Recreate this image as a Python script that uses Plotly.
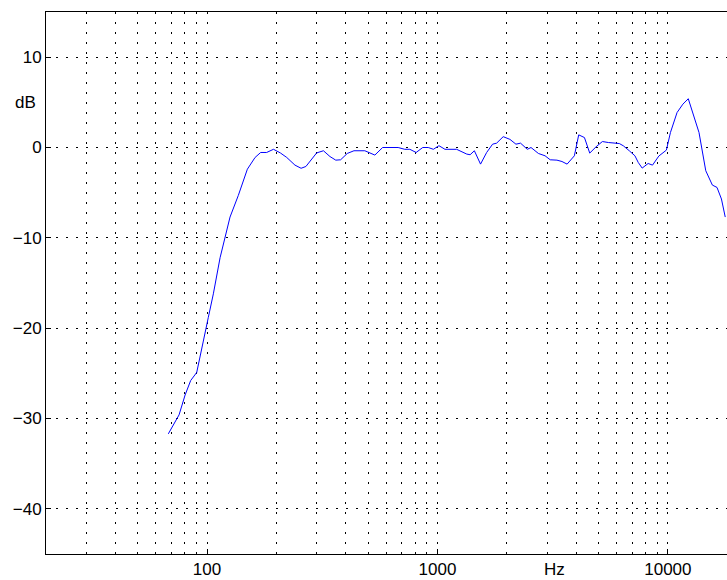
import math
import plotly.graph_objects as go

freq_hz = [67.9, 75.6, 80.3, 84.9, 90.2, 94.8, 101.3, 106.5, 113.9, 125.8, 136.7, 149.6,
           161.6, 170.9, 181.4, 194.2, 208, 221.7, 240.7, 255.9, 268.6, 299, 320, 341.5,
           362, 380, 406, 434, 484, 535, 578, 675, 721, 759, 808, 863, 912, 960, 1015,
           1078, 1211, 1340, 1386, 1446, 1538, 1635, 1735, 1806, 1929, 2063, 2190, 2294,
           2454, 2547, 2742, 2931, 3085, 3300, 3470, 3652, 3928, 4102, 4344, 4580, 4880,
           5198, 5520, 6155, 6405, 6800, 7195, 7435, 7735, 8208, 8578, 9134, 9853, 10260,
           10960, 11620, 12260, 13650, 14600, 15600, 16340, 17080, 17740]
level_db = [-31.7, -29.6, -27.4, -25.8, -24.9, -22.1, -18.8, -16.2, -12.2, -7.7, -5.3, -2.4,
            -1.1, -0.55, -0.55, -0.2, -0.6, -1.1, -1.95, -2.3, -2.1, -0.6, -0.36, -1.0,
            -1.4, -1.36, -0.66, -0.36, -0.36, -0.84, 0.0, 0.0, -0.2, -0.2, -0.55, 0.0, 0.0, -0.2, 0.2,
            -0.2, -0.2, -0.73, -0.8, -0.36, -1.84, -0.55, 0.37, 0.48, 1.2, 0.9, 0.37, 0.48,
            -0.2, 0.0, -0.66, -0.92, -1.36, -1.4, -1.55, -1.84, -0.92, 1.4, 1.1, -0.62, 0.08,
            0.66, 0.55, 0.44, 0.19, -0.36, -0.92, -1.65, -2.28, -1.77, -1.95, -0.95, -0.29, 1.66,
            3.87, 4.8, 5.4, 1.66, -2.57, -4.16, -4.42, -5.7, -7.7]

x_major_ticks = [100, 1000, 10000]
x_major_labels = ["100", "1000", "10000"]
x_minor_grid = [30, 40, 50, 60, 70, 80, 90, 200, 300, 400, 500, 600, 700, 800, 900,
                2000, 3000, 4000, 5000, 6000, 7000, 8000, 9000]
y_ticks = [-40, -30, -20, -10, 0, 10]
y_labels = ["\u221240", "\u221230", "\u221220", "\u221210", "0", "10"]

FONT = dict(family="Liberation Sans, Arial, Helvetica, sans-serif", size=17, color="black")
DASH = "2px,8px"

fig = go.Figure()
fig.add_trace(go.Scatter(x=freq_hz, y=level_db, mode="lines",
                         line=dict(color="#0000ff", width=1), showlegend=False,
                         hoverinfo="skip"))

fig.update_layout(
    width=727, height=580,
    margin=dict(l=46, r=0, t=12, b=26, autoexpand=False),
    paper_bgcolor="white", plot_bgcolor="white",
    font=FONT,
    xaxis=dict(
        type="log", range=[math.log10(20), 4.2566],
        tickvals=x_major_ticks, ticktext=x_major_labels,
        ticks="inside", ticklen=5, tickcolor="black", tickwidth=1,
        showgrid=True, gridcolor="black", gridwidth=1, griddash=DASH,
        minor=dict(tickvals=x_minor_grid, showgrid=True, gridcolor="black",
                   gridwidth=1, griddash=DASH, ticks=""),
        showline=True, linecolor="black", linewidth=1, mirror=True,
        zeroline=False, tickfont=FONT, automargin=False,
    ),
    yaxis=dict(
        range=[-45, 15],
        tickvals=y_ticks, ticktext=y_labels,
        ticks="inside", ticklen=5, tickcolor="black", tickwidth=1,
        showgrid=True, gridcolor="black", gridwidth=1, griddash=DASH,
        showline=True, linecolor="black", linewidth=1, mirror=False,
        zeroline=False, tickfont=FONT, automargin=False,
    ),
    annotations=[
        dict(text="dB", xref="paper", yref="y", x=-0.0304, y=5, showarrow=False,
             xanchor="center", yanchor="middle", font=FONT),
        dict(text="Hz", xref="x", yref="paper", x=3.506, y=0, showarrow=False,
             xanchor="center", yanchor="top", yshift=-4, font=FONT),
    ],
)

fig.write_html("out.html",
               config={"displayModeBar": False},
               post_script="document.documentElement.style.margin='0';"
                           "document.body.style.margin='0';"
                           "document.body.style.padding='0';"
                           "document.body.style.overflow='hidden';")
